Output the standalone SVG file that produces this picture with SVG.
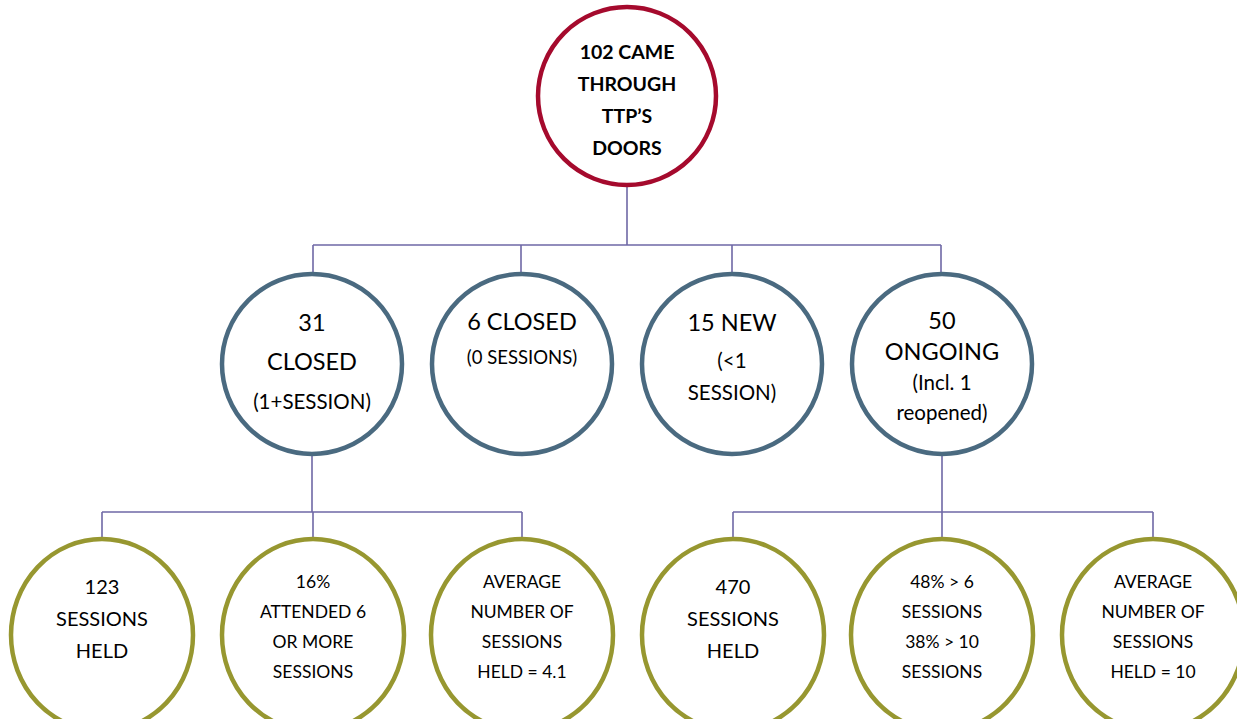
<svg xmlns="http://www.w3.org/2000/svg" width="1237" height="719" viewBox="0 0 1237 719">
<style>
text{font-family:Lato,"Liberation Sans",sans-serif;fill:#000;text-anchor:middle}
.top{fill:#fff;stroke:#A50A2D;stroke-width:4.5}
.mid{fill:#fff;stroke:#4A6A80;stroke-width:4.5}
.bot{fill:#fff;stroke:#979730;stroke-width:4.5}
.con{fill:none;stroke:#6F68A6;stroke-width:1.6}
.b{font-weight:bold;font-size:19.5px}
.l{font-size:23.5px}
.m{font-size:20.5px}
.s{font-size:18.5px}
.h{font-size:20px}
.t{font-size:17.5px}
</style>
<rect width="1237" height="719" fill="#fff"/>
<g id="connectors">
<path class="con" d="M627,186V245M313,245H941M313,245V273M521,245V273M732,245V273M941,245V273"/>
<path class="con" d="M312,455V512M102,512H522M102,512V538M313,512V538M522,512V538"/>
<path class="con" d="M942,455V512M733,512H1153M733,512V538M942,512V538M1153,512V538"/>
</g>
<g id="n-root">
<circle class="top" cx="627" cy="96" r="89"/>
<text class="b" x="627" y="59">102 CAME</text>
<text class="b" x="627" y="91">THROUGH</text>
<text class="b" x="627" y="123">TTP’S</text>
<text class="b" x="627" y="155">DOORS</text>
</g>
<g id="n-closed31">
<circle class="mid" cx="312" cy="364" r="90"/>
<text class="l" x="312" y="331">31</text>
<text class="l" x="312" y="370">CLOSED</text>
<text class="m" x="312" y="409">(1+SESSION)</text>
</g>
<g id="n-closed6">
<circle class="mid" cx="522" cy="364" r="90"/>
<text class="l" x="522" y="330">6 CLOSED</text>
<text class="s" x="522" y="364">(0 SESSIONS)</text>
</g>
<g id="n-new15">
<circle class="mid" cx="732" cy="364" r="90"/>
<text class="l" x="732" y="331">15 NEW</text>
<text class="m" x="732" y="368">(&lt;1</text>
<text class="m" x="732" y="400">SESSION)</text>
</g>
<g id="n-ongoing50">
<circle class="mid" cx="942" cy="364" r="90"/>
<text class="l" x="942" y="329">50</text>
<text class="l" x="942" y="360">ONGOING</text>
<text class="m" x="942" y="390">(Incl. 1</text>
<text class="m" x="942" y="420">reopened)</text>
</g>
<g id="n-123">
<ellipse class="bot" cx="102" cy="635" rx="91" ry="96"/>
<text class="h" x="102" y="594">123</text>
<text class="h" x="102" y="626">SESSIONS</text>
<text class="h" x="102" y="658">HELD</text>
</g>
<g id="n-16pct">
<ellipse class="bot" cx="313" cy="635" rx="91" ry="96"/>
<text class="t" x="313" y="588">16%</text>
<text class="t" x="313" y="618">ATTENDED 6</text>
<text class="t" x="313" y="648">OR MORE</text>
<text class="t" x="313" y="678">SESSIONS</text>
</g>
<g id="n-avg41">
<ellipse class="bot" cx="522" cy="635" rx="91" ry="96"/>
<text class="t" x="522" y="588">AVERAGE</text>
<text class="t" x="522" y="618">NUMBER OF</text>
<text class="t" x="522" y="648">SESSIONS</text>
<text class="t" x="522" y="678">HELD = 4.1</text>
</g>
<g id="n-470">
<ellipse class="bot" cx="733" cy="635" rx="91" ry="96"/>
<text class="h" x="733" y="594">470</text>
<text class="h" x="733" y="626">SESSIONS</text>
<text class="h" x="733" y="658">HELD</text>
</g>
<g id="n-48pct">
<ellipse class="bot" cx="942" cy="635" rx="91" ry="96"/>
<text class="t" x="942" y="588">48% &gt; 6</text>
<text class="t" x="942" y="618">SESSIONS</text>
<text class="t" x="942" y="648">38% &gt; 10</text>
<text class="t" x="942" y="678">SESSIONS</text>
</g>
<g id="n-avg10">
<ellipse class="bot" cx="1153" cy="635" rx="91" ry="96"/>
<text class="t" x="1153" y="588">AVERAGE</text>
<text class="t" x="1153" y="618">NUMBER OF</text>
<text class="t" x="1153" y="648">SESSIONS</text>
<text class="t" x="1153" y="678">HELD = 10</text>
</g>
</svg>
